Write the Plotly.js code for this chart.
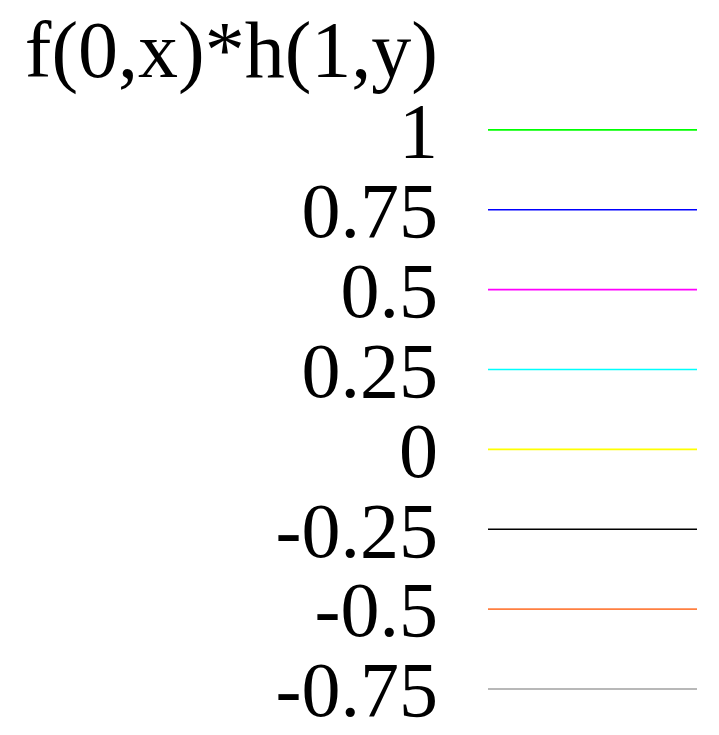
<!DOCTYPE html>
<html>
<head>
<meta charset="utf-8">
<script src="https://cdn.plot.ly/plotly-3.0.1.min.js"></script>
<style>html,body{margin:0;padding:0;background:#fff;}</style>
</head>
<body>
<div id="chart" style="width:719px;height:735px;"></div>
<script>
const chartTitle = "f(0,x)*h(1,y)";
const levelLabels = ["1", "0.75", "0.5", "0.25", "0", "-0.25", "-0.5", "-0.75"];
const levelColors = ["#00ff00", "#0000ff", "#ff00ff", "#00ffff", "#ffff00", "#000000", "#ff7f40", "#a0a0a0"];
const keySpan = [0, 1];

const traces = levelLabels.map((lab, i) => ({
  type: "scatter",
  mode: "lines",
  x: keySpan,
  y: [lab, lab],
  line: {color: levelColors[i], width: 1.6},
  hoverinfo: "skip",
  showlegend: false
}));

const rows = [chartTitle].concat(levelLabels);
const rowText = ['<span style="font-size:80px">' + chartTitle + '</span>'].concat(levelLabels);

const layout = {
  width: 719,
  height: 735,
  margin: {l: 488, r: 22, t: 10, b: 6},
  paper_bgcolor: "#ffffff",
  plot_bgcolor: "#ffffff",
  showlegend: false,
  xaxis: {range: [0, 1], visible: false, fixedrange: true},
  yaxis: {
    type: "category",
    categoryorder: "array",
    categoryarray: rows,
    tickvals: rows,
    ticktext: rowText,
    range: [rows.length - 0.5, -0.5],
    showgrid: false,
    zeroline: false,
    showline: false,
    ticks: "",
    ticklabelstandoff: 49,
    tickfont: {family: "Liberation Serif, Times New Roman, serif", size: 78, color: "#000000"},
    fixedrange: true
  }
};

Plotly.newPlot("chart", traces, layout, {staticPlot: true, displayModeBar: false});
</script>
</body>
</html>
